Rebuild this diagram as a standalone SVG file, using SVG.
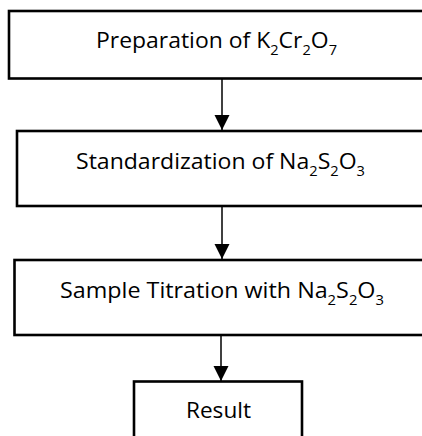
<svg xmlns="http://www.w3.org/2000/svg" width="422" height="436" viewBox="0 0 422 436">
<style>
.box{fill:#fff;stroke:#000;stroke-width:2.6}
.t{font-family:"Open Sans","Noto Sans",sans-serif;font-size:22px;fill:#000;text-anchor:middle}
.s{font-size:14px}
.c{stroke:#000;stroke-width:1.5;fill:none}
</style>
<defs>
<marker id="ah" viewBox="0 0 16 17" refX="16" refY="8" markerWidth="17" markerHeight="16" markerUnits="userSpaceOnUse" orient="auto">
<path d="M0,0 L16,8 L0,16 Z" fill="#000"/>
</marker>
</defs>
<g id="connectors">
<line class="c" x1="222" y1="79" x2="222" y2="130" marker-end="url(#ah)"/>
<line class="c" x1="222" y1="207" x2="222" y2="259" marker-end="url(#ah)"/>
<line class="c" x1="221" y1="336" x2="221" y2="381" marker-end="url(#ah)"/>
</g>
<g id="node1">
<rect class="box" x="9" y="11" width="430" height="67.5"/>
<text class="t" x="216.5" y="48" textLength="241" lengthAdjust="spacingAndGlyphs">Preparation of K<tspan class="s" dy="7">2</tspan><tspan dy="-7">Cr</tspan><tspan class="s" dy="7">2</tspan><tspan dy="-7">O</tspan><tspan class="s" dy="7">7</tspan></text>
</g>
<g id="node2">
<rect class="box" x="17" y="131" width="430" height="75"/>
<text class="t" x="220.5" y="169" textLength="289" lengthAdjust="spacingAndGlyphs">Standardization of Na<tspan class="s" dy="7">2</tspan><tspan dy="-7">S</tspan><tspan class="s" dy="7">2</tspan><tspan dy="-7">O</tspan><tspan class="s" dy="7">3</tspan></text>
</g>
<g id="node3">
<rect class="box" x="14.5" y="260" width="430" height="75"/>
<text class="t" x="222" y="298" textLength="324" lengthAdjust="spacingAndGlyphs">Sample Titration with Na<tspan class="s" dy="7">2</tspan><tspan dy="-7">S</tspan><tspan class="s" dy="7">2</tspan><tspan dy="-7">O</tspan><tspan class="s" dy="7">3</tspan></text>
</g>
<g id="node4">
<rect class="box" x="134" y="381.5" width="168" height="70"/>
<text class="t" x="218.5" y="418" textLength="65" lengthAdjust="spacingAndGlyphs">Result</text>
</g>
</svg>
